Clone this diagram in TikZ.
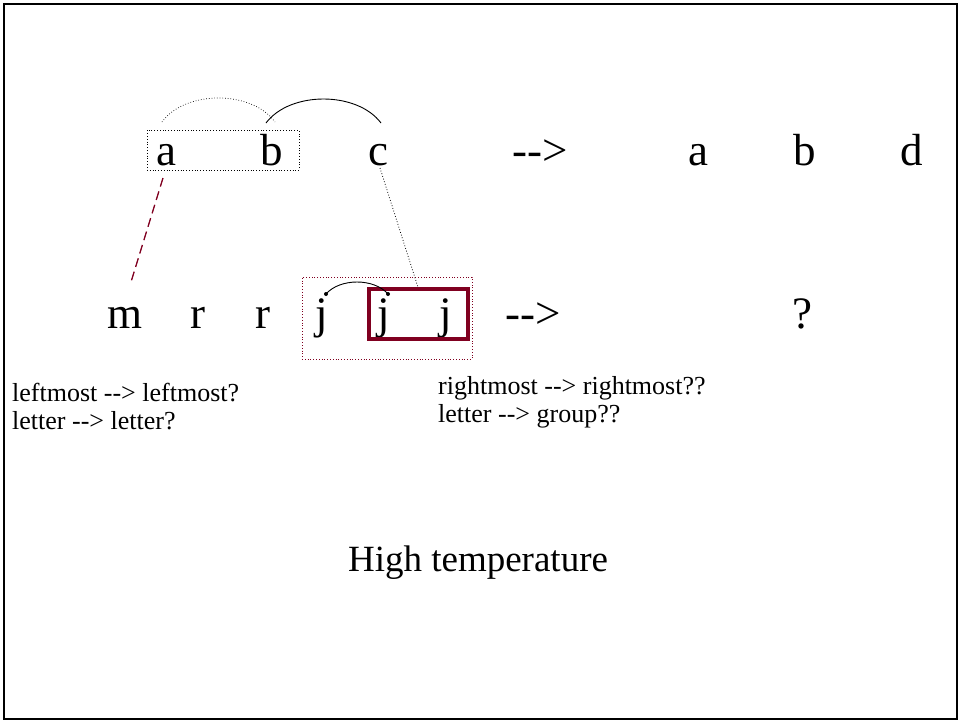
\documentclass[tikz,border=0pt]{standalone}
\usepackage{fontspec}
\setmainfont{Liberation Serif}[Ligatures=TeXOff]
\definecolor{maroon}{RGB}{128,0,32}
\tikzset{
  big/.style={anchor=base, inner sep=0pt, font=\fontsize{45}{50}\selectfont},
  small/.style={anchor=base west, inner sep=0pt, font=\fontsize{26}{30}\selectfont},
  title/.style={anchor=base, inner sep=0pt, font=\fontsize{37}{42}\selectfont},
}
\begin{document}
\begin{tikzpicture}[x=1pt,y=-1pt]
\useasboundingbox (0,0) rectangle (960,721);
\draw[line width=2.5pt] (4,4) rectangle (957,719);

% top row
\node[big] (ta) at (166,165) {a};
\node[big] (tb) at (272,165) {b};
\node[big] (tc) at (378,165) {c};
\node[big] (tarrow) at (540,165) {-->};
\node[big] (ra) at (698,165) {a};
\node[big] (rb) at (805,165) {b};
\node[big] (rd) at (912,165) {d};

\node[draw, dotted, line width=0.8pt, minimum width=152pt, minimum height=40pt, inner sep=0pt] (abbox) at (223,150) {};

\coordinate (d1s) at (162,122);
\coordinate (d1e) at (275,122);
\draw[dotted, line width=0.7pt] (d1s) .. controls (185,90) and (252,90) .. (d1e);
\coordinate (s1s) at (266,123);
\coordinate (s1e) at (381,123);
\draw[line width=0.9pt] (s1s) .. controls (290,91) and (357,91) .. (s1e);

% second row
\node[big] (m) at (125,328) {m};
\node[big] (r1) at (198,328) {r};
\node[big] (r2) at (263,328) {r};
\node[big] (j1) at (322,328) {j};
\node[big] (j2) at (384,328) {j};
\node[big] (j3) at (446,328) {j};
\node[big] (barrow) at (533,328) {-->};
\node[big] (q) at (802,328) {?};

\node[draw=maroon, dotted, line width=0.8pt, minimum width=170pt, minimum height=82pt, inner sep=0pt] (jbox) at (387,318) {};
\node[draw=maroon, line width=3.5pt, minimum width=99pt, minimum height=50pt, inner sep=0pt] (jjbox) at (418.5,314) {};

\coordinate (j1dot) at (326,294);
\coordinate (j2dot) at (388,294);
\draw[line width=0.9pt] (j1dot) .. controls (340,278) and (374,278) .. (j2dot);
\fill (j1dot) circle (2pt);
\fill (j2dot) circle (2pt);

% connectors
\coordinate (cbot) at (380,168);
\draw[dotted, line width=0.8pt] (cbot) -- (jjbox.north -| 418,0);
\coordinate (ds) at (163,178);
\coordinate (de) at (131,282);
\draw[maroon, line width=1.3pt, dash pattern=on 9pt off 5pt] (ds) -- (de);

% notes
\node[small] (n1a) at (12,401) {leftmost --> leftmost?};
\node[small] (n1b) at (12,429) {letter --> letter?};
\node[small] (n2a) at (438,394) {rightmost --> rightmost??};
\node[small] (n2b) at (438,422) {letter --> group??};

\node[title] (ht) at (478,571) {High temperature};
\end{tikzpicture}
\end{document}
